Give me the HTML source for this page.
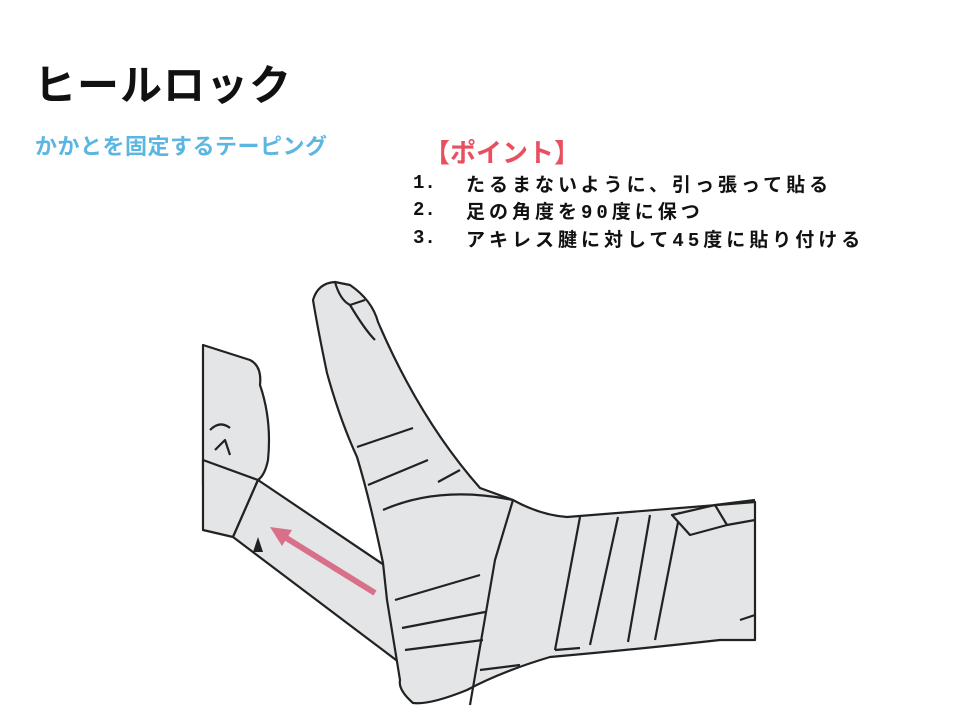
<!DOCTYPE html>
<html><head><meta charset="utf-8"><style>
body{margin:0;width:960px;height:720px;background:#fff;position:relative;overflow:hidden;font-family:"Liberation Sans","Noto Sans CJK JP",sans-serif}
.t{position:absolute;left:34px;top:52px;font-size:42px;font-weight:bold;color:#111;letter-spacing:1px}
.s{position:absolute;left:35px;top:129px;font-size:22px;color:#5cb6e2;font-weight:bold;letter-spacing:0.5px}
.p{position:absolute;left:424px;top:133px;font-size:26px;color:#e8505f;font-weight:bold}
.n,.l{position:absolute;font-size:19px;font-weight:bold;color:#111;font-family:"Liberation Mono","Noto Sans CJK JP",monospace}
.n{left:413px}
.l{left:466px;letter-spacing:4px}
</style></head><body>
<div class="t">ヒールロック</div>
<div class="s">かかとを固定するテーピング</div>
<div class="p">【ポイント】</div>
<div class="n" style="top:172px">1.</div><div class="l" style="top:170px">たるまないように、引っ張って貼る</div>
<div class="n" style="top:199px">2.</div><div class="l" style="top:197px">足の角度を90度に保つ</div>
<div class="n" style="top:227px">3.</div><div class="l" style="top:225px">アキレス腱に対して45度に貼り付ける</div>
<svg width="960" height="720" style="position:absolute;left:0;top:0" fill="#e3e5e6" stroke="#222" stroke-width="2.2" stroke-linejoin="round">
<path d="M203,345 L250,360 Q262,366 260,385 Q272,420 268,460 Q265,475 258,480 L203,485 Z"/>
<path d="M203,460 L258,480 L233,537 L203,530 Z"/>
<path d="M258,480 L387,567 L400,663 L233,537 Z"/>
<path d="M313,300 Q318,283 335,282 L350,285 Q372,300 378,322 Q420,420 480,488 L513,500 Q540,515 567,517 L755,502 L755,640 L720,640 Q630,650 550,657 Q500,672 467,690 Q430,705 413,703 Q398,690 400,680 L387,600 Q383,563 383,563 Q370,500 357,457 Q340,420 327,373 Q318,330 313,300 Z"/>
<g fill="none">
<path d="M335,282 Q340,300 350,305 L365,300"/>
<path d="M350,305 Q365,330 375,340"/>
<path d="M357,447 L413,428 M368,485 L428,460 M438,482 L460,470"/>
<path d="M383,510 Q440,485 513,500 M513,500 L495,560 L470,705"/>
<path d="M395,600 L480,575 M402,628 L485,612 M405,650 L483,640"/>
<path d="M580,517 L555,650 M618,517 L590,645 M650,515 L628,642 M680,512 L655,640"/>
<path d="M672,515 L715,505 L727,525 L690,535 Z" fill="#e3e5e6"/>
<path d="M715,505 L755,500 M727,525 L755,520 M740,620 L755,615"/>
<path d="M480,670 L520,665 M555,650 L580,648"/>
<path d="M210,430 Q220,420 230,428 M215,450 L225,440 L230,455"/>
</g>
<path d="M253,552 L258,537 L263,552 Z" fill="#222" stroke="none"/>
<line x1="375" y1="593" x2="283" y2="536" stroke="#d9708a" stroke-width="6"/>
<path d="M270,527 L292,530 L282,546 Z" fill="#d9708a" stroke="none"/>
</svg>
</body></html>
